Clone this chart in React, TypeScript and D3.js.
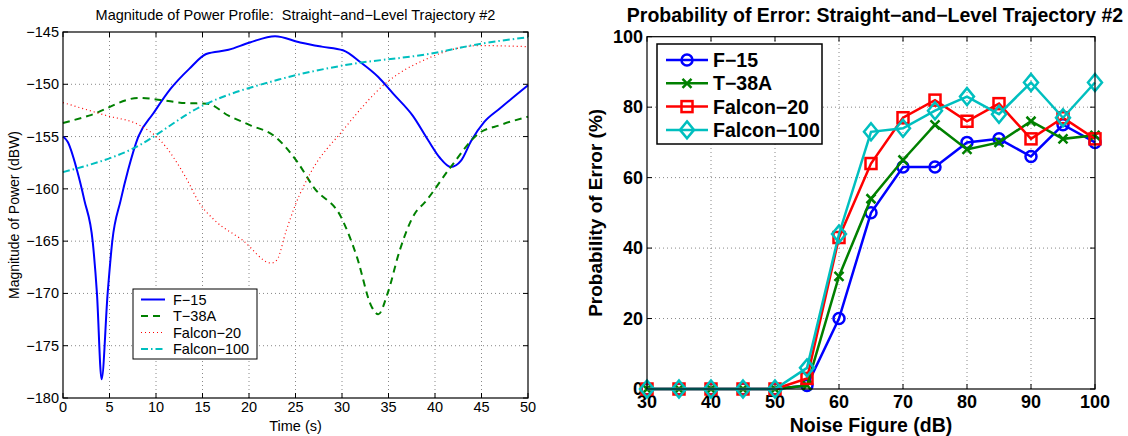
import * as d3 from 'd3';
import * as React from "react";

// ---- left panel: power profile (time in s, magnitude in dBW) ----
const f15Time = [0, 0.5, 1.5, 2.3, 3.2, 3.65, 4.15, 4.8, 5.3, 6.2, 7.0, 8.1, 9.7, 11.6, 13.6, 15.4, 17.8, 20.1, 22.8, 25.5, 27.8, 30.1, 32.0, 33.9, 35.5, 37.6, 39.3, 40.5, 41.7, 42.8, 43.9, 45.3, 47.0, 50];
const f15Power = [-155.0, -155.5, -158.2, -161.1, -165.1, -170.0, -178.2, -170.0, -165.0, -161.1, -158.2, -155.0, -152.8, -150.4, -148.5, -147.1, -146.7, -146.0, -145.4, -146.0, -146.4, -146.75, -147.9, -149.3, -150.9, -153.0, -155.4, -157.0, -157.9, -157.3, -155.4, -153.6, -152.3, -150.1];

const t38Time = [0, 2.8, 8.2, 10.5, 13.2, 15.5, 17.8, 20.1, 22.8, 25.1, 27.0, 29.9, 31.6, 33.2, 33.9, 34.9, 36.2, 37.8, 38.9, 41.7, 44.7, 47.0, 50];
const t38Power = [-153.7, -153.0, -151.3, -151.5, -151.8, -151.85, -153.0, -153.9, -155.0, -157.3, -159.9, -162.7, -166.5, -171.3, -172.0, -170.0, -165.9, -162.4, -161.3, -157.9, -154.7, -153.9, -153.1];

const f20Time = [0, 4.7, 8.2, 10.5, 13.2, 14.7, 16.3, 19.3, 22.4, 23.0, 24.0, 25.0, 26.6, 30.1, 34.7, 39.3, 44.7, 50];
const f20Power = [-151.75, -153.0, -153.9, -155.4, -158.9, -161.4, -163.0, -164.9, -167.1, -166.8, -164.0, -161.5, -158.5, -154.4, -149.9, -147.5, -146.3, -146.4];

const f100Time = [0, 7.4, 15.1, 23.2, 30.1, 39.3, 45.1, 50];
const f100Power = [-158.4, -156.2, -152.0, -149.55, -148.2, -147.1, -146.1, -145.5];

const timeTicks = [0, 5, 10, 15, 20, 25, 30, 35, 40, 45, 50];
const powerTicks = [-180, -175, -170, -165, -160, -155, -150, -145];

// ---- right panel: probability of error vs noise figure ----
const noiseFigure = [30, 35, 40, 45, 50, 55, 60, 65, 70, 75, 80, 85, 90, 95, 100];
const peF15 = [0, 0, 0, 0, 0, 1, 20, 50, 63, 63, 70, 71, 66, 75, 70];
const peT38 = [0, 0, 0, 0, 0, 1, 32, 54, 65, 75, 68, 70, 76, 71, 72];
const peF20 = [0, 0, 0, 0, 0, 3, 43, 64, 77, 82, 76, 81, 71, 77, 71];
const peF100 = [0, 0, 0, 0, 0, 6, 44, 73, 74, 79, 83, 78, 87, 77, 87];

const nfTicks = [30, 40, 50, 60, 70, 80, 90, 100];
const peTicks = [0, 20, 40, 60, 80, 100];

const aircraft = ["F\u221215", "T\u221238A", "Falcon\u221220", "Falcon\u2212100"];

const FONT = '"Liberation Sans", Arial, sans-serif';
const BLUE = "#0000ff", GREEN = "#008000", RED = "#ff0000", CYAN = "#00bfbf";

const fmt = d3.format("d");

type AxesProps = {
    x: d3.ScaleLinear<number, number>;
    y: d3.ScaleLinear<number, number>;
    xTicks: number[];
    yTicks: number[];
    fontSize: number;
    bold?: boolean;
    xPad?: number;
};

// box, inward ticks on all four sides, dotted grid, tick labels
const Axes: React.FC<AxesProps> = ({ x, y, xTicks, yTicks, fontSize, bold, xPad = 4 }) => {
    const [x0, x1] = x.range();
    const [y0, y1] = y.range();
    const tk = 5;
    const weight = bold ? "bold" : "normal";
    return (
        <g>
            {xTicks.slice(1, -1).map(t => (
                <line key={"gx" + t} x1={x(t)} x2={x(t)} y1={y0} y2={y1} stroke="#888" strokeWidth={1} strokeDasharray="1,3" />
            ))}
            {yTicks.slice(1, -1).map(t => (
                <line key={"gy" + t} x1={x0} x2={x1} y1={y(t)} y2={y(t)} stroke="#888" strokeWidth={1} strokeDasharray="1,3" />
            ))}
            {xTicks.map(t => (
                <g key={"tx" + t}>
                    <line x1={x(t)} x2={x(t)} y1={y0} y2={y0 - tk} stroke="#000" />
                    <line x1={x(t)} x2={x(t)} y1={y1} y2={y1 + tk} stroke="#000" />
                    <text x={x(t)} y={y0 + xPad} textAnchor="middle" dominantBaseline="hanging" fontSize={fontSize} fontWeight={weight} fontFamily={FONT}>{fmt(t)}</text>
                </g>
            ))}
            {yTicks.map(t => (
                <g key={"ty" + t}>
                    <line x1={x0} x2={x0 + tk} y1={y(t)} y2={y(t)} stroke="#000" />
                    <line x1={x1} x2={x1 - tk} y1={y(t)} y2={y(t)} stroke="#000" />
                    <text x={x0 - 4} y={y(t)} textAnchor="end" dominantBaseline="central" fontSize={fontSize} fontWeight={weight} fontFamily={FONT}>{fmt(t)}</text>
                </g>
            ))}
        </g>
    );
};

const Marker: React.FC<{ kind: string; cx: number; cy: number; color: string }> = ({ kind, cx, cy, color }) => {
    const sw = 2.5;
    if (kind === "circle") return <circle cx={cx} cy={cy} r={5.5} fill="none" stroke={color} strokeWidth={sw} />;
    if (kind === "square") return <rect x={cx - 5.5} y={cy - 5.5} width={11} height={11} fill="none" stroke={color} strokeWidth={sw} />;
    if (kind === "x") return <path d={`M${cx - 4.5},${cy - 4.5}L${cx + 4.5},${cy + 4.5}M${cx - 4.5},${cy + 4.5}L${cx + 4.5},${cy - 4.5}`} stroke={color} strokeWidth={sw} />;
    return <path d={`M${cx},${cy - 8.5}L${cx + 7},${cy}L${cx},${cy + 8.5}L${cx - 7},${cy}Z`} fill="none" stroke={color} strokeWidth={sw} />;
};

export default function App() {
    // left panel
    const xL = d3.scaleLinear().domain([0, 50]).range([63, 528]);
    const yL = d3.scaleLinear().domain([-180, -145]).range([398, 32]);
    const lineL = (ts: number[], vs: number[]) =>
        d3.line<number>().curve(d3.curveMonotoneX).x((_, i) => xL(ts[i])).y(v => yL(v))(vs) ?? "";

    const leftSeries = [
        { name: aircraft[0], d: lineL(f15Time, f15Power), color: BLUE, w: 2, dash: undefined },
        { name: aircraft[1], d: lineL(t38Time, t38Power), color: GREEN, w: 2, dash: "7,5" },
        { name: aircraft[2], d: lineL(f20Time, f20Power), color: RED, w: 1.2, dash: "1,3" },
        { name: aircraft[3], d: lineL(f100Time, f100Power), color: CYAN, w: 2, dash: "7,3,1.5,3" },
    ];

    // right panel
    const xR = d3.scaleLinear().domain([30, 100]).range([647, 1095]);
    const yR = d3.scaleLinear().domain([0, 100]).range([389, 36.7]);
    const lineR = d3.line<number>().x((_, i) => xR(noiseFigure[i])).y(v => yR(v));

    const rightSeries = [
        { name: aircraft[0], vals: peF15, color: BLUE, marker: "circle" },
        { name: aircraft[1], vals: peT38, color: GREEN, marker: "x" },
        { name: aircraft[2], vals: peF20, color: RED, marker: "square" },
        { name: aircraft[3], vals: peF100, color: CYAN, marker: "diamond" },
    ];

    const [lx0, lx1] = xL.range();
    const [ly0, ly1] = yL.range();
    const [rx0, rx1] = xR.range();
    const [ry0, ry1] = yR.range();

    return (
        <svg width={1128} height={436} style={{ position: "absolute", left: 0, top: 0, background: "#fff" }}>
            {/* ---------- left ---------- */}
            <rect x={lx0} y={ly1} width={lx1 - lx0} height={ly0 - ly1} fill="#fff" />
            <Axes x={xL} y={yL} xTicks={timeTicks} yTicks={powerTicks} fontSize={14.5} />
            {leftSeries.map(s => (
                <path key={s.name} d={s.d} fill="none" stroke={s.color} strokeWidth={s.w} strokeDasharray={s.dash} />
            ))}
            <rect x={lx0} y={ly1} width={lx1 - lx0} height={ly0 - ly1} fill="none" stroke="#000" strokeWidth={1.2} />
            <text x={(lx0 + lx1) / 2} y={15} textAnchor="middle" dominantBaseline="central" fontSize={14.5} fontFamily={FONT}>
                {"Magnitude of Power Profile:\u00a0\u00a0Straight\u2212and\u2212Level Trajectory #2"}
            </text>
            <text x={(lx0 + lx1) / 2} y={426} textAnchor="middle" dominantBaseline="central" fontSize={14.5} fontFamily={FONT}>Time (s)</text>
            <text transform={`translate(14,${(ly0 + ly1) / 2}) rotate(-90)`} textAnchor="middle" dominantBaseline="central" fontSize={14} fontFamily={FONT}>Magnitude of Power (dBW)</text>
            <g>
                <rect x={133} y={289} width={124} height={70} fill="#fff" stroke="#000" strokeWidth={1} />
                {leftSeries.map((s, i) => (
                    <g key={s.name}>
                        <line x1={141} x2={165} y1={299.5 + i * 16.5} y2={299.5 + i * 16.5} stroke={s.color} strokeWidth={s.w} strokeDasharray={s.dash} />
                        <text x={173} y={299.5 + i * 16.5} dominantBaseline="central" fontSize={14.5} fontFamily={FONT}>{s.name}</text>
                    </g>
                ))}
            </g>

            {/* ---------- right ---------- */}
            <Axes x={xR} y={yR} xTicks={nfTicks} yTicks={peTicks} fontSize={18} bold xPad={6} />
            {rightSeries.map(s => (
                <g key={s.name}>
                    <path d={lineR(s.vals) ?? ""} fill="none" stroke={s.color} strokeWidth={2.5} />
                    {s.vals.map((v, i) => (
                        <Marker key={i} kind={s.marker} cx={xR(noiseFigure[i])} cy={yR(v)} color={s.color} />
                    ))}
                </g>
            ))}
            <rect x={rx0} y={ry1} width={rx1 - rx0} height={ry0 - ry1} fill="none" stroke="#000" strokeWidth={1.2} />
            <text x={(rx0 + rx1) / 2 + 4} y={15} textAnchor="middle" dominantBaseline="central" fontSize={19.5} fontWeight="bold" fontFamily={FONT}>
                {"Probability of Error: Straight\u2212and\u2212Level Trajectory #2"}
            </text>
            <text x={(rx0 + rx1) / 2} y={425} textAnchor="middle" dominantBaseline="central" fontSize={19.5} fontWeight="bold" fontFamily={FONT}>Noise Figure (dB)</text>
            <text transform={`translate(595,${(ry0 + ry1) / 2}) rotate(-90)`} textAnchor="middle" dominantBaseline="central" fontSize={19} fontWeight="bold" fontFamily={FONT}>Probability of Error (%)</text>
            <g>
                <rect x={657} y={44} width={165} height={100} fill="#fff" stroke="#000" strokeWidth={1.5} />
                {rightSeries.map((s, i) => (
                    <g key={s.name}>
                        <line x1={666} x2={708} y1={60 + i * 23.3} y2={60 + i * 23.3} stroke={s.color} strokeWidth={2.5} />
                        <Marker kind={s.marker} cx={687} cy={60 + i * 23.3} color={s.color} />
                        <text x={713} y={60 + i * 23.3} dominantBaseline="central" fontSize={19.5} fontWeight="bold" fontFamily={FONT}>{s.name}</text>
                    </g>
                ))}
            </g>
        </svg>
    );
}
